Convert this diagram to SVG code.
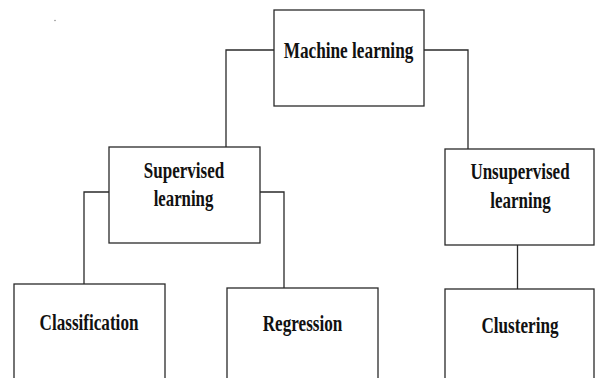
<svg xmlns="http://www.w3.org/2000/svg" width="595" height="378" viewBox="0 0 595 378">
  <style>
    .box { fill: #ffffff; stroke: #2a2a2a; stroke-width: 1.3; }
    .link { fill: none; stroke: #2a2a2a; stroke-width: 1.3; }
    .label { font-family: "Liberation Serif", "Times New Roman", serif; font-weight: bold; font-size: 23px; fill: #111111; text-anchor: middle; }
  </style>
  <rect width="595" height="378" fill="#ffffff"/>
  <circle cx="55" cy="20.5" r="0.7" fill="#777777"/>

  <g id="connectors">
    <polyline class="link" points="274,50 226,50 226,147"/>
    <polyline class="link" points="424,50 468,50 468,149"/>
    <polyline class="link" points="109,192 84,192 84,284"/>
    <polyline class="link" points="260,192 284,192 284,288"/>
    <line class="link" x1="517.5" y1="245" x2="517.5" y2="289"/>
  </g>

  <!-- labels use a condensed bold serif: horizontal scale 0.74 -->
  <g id="machine-learning">
    <rect class="box" x="274" y="10" width="150" height="96"/>
    <text class="label" transform="translate(348.5,57.5) scale(0.75,1)">Machine learning</text>
  </g>

  <g id="supervised-learning">
    <rect class="box" x="109" y="147" width="151" height="96"/>
    <text class="label" transform="translate(184,178) scale(0.74,1)">Supervised</text>
    <text class="label" transform="translate(183.5,206) scale(0.73,1)">learning</text>
  </g>

  <g id="unsupervised-learning">
    <rect class="box" x="445" y="149" width="149" height="96"/>
    <text class="label" transform="translate(520,179) scale(0.74,1)">Unsupervised</text>
    <text class="label" transform="translate(520.5,208) scale(0.74,1)">learning</text>
  </g>

  <g id="classification">
    <rect class="box" x="14" y="284" width="151" height="110"/>
    <text class="label" transform="translate(89,329.5) scale(0.745,1)">Classification</text>
  </g>

  <g id="regression">
    <rect class="box" x="227" y="288" width="151" height="110"/>
    <text class="label" transform="translate(302.5,330.5) scale(0.745,1)">Regression</text>
  </g>

  <g id="clustering">
    <rect class="box" x="445" y="289" width="149" height="110"/>
    <text class="label" transform="translate(520,333) scale(0.745,1)">Clustering</text>
  </g>
</svg>
